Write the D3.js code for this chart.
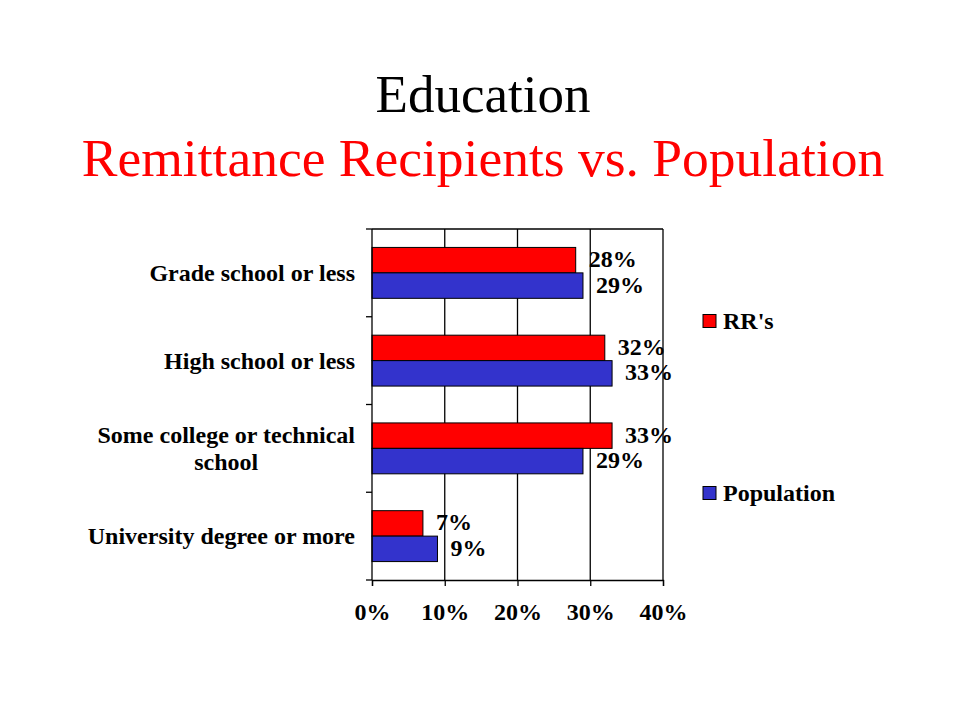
<!DOCTYPE html>
<html>
<head>
<meta charset="utf-8">
<script src="https://cdn.jsdelivr.net/npm/d3@7"></script>
<style>
  body { margin: 0; background: white; }
  text { font-family: "Liberation Serif", "Times New Roman", serif; }
</style>
</head>
<body>
<div id="chart"></div>
<script>
// data
const categories = ["Grade school or less", "High school or less", "Some college or technical\nschool", "University degree or more"]
const seriesNames = ["RR's", "Population"]
const rrValues = [28, 32, 33, 7]
const popValues = [29, 33, 29, 9]
const xTicks = [0, 10, 20, 30, 40]
const colors = ["#ff0000", "#3333cc"]

const rows = categories.map((c, i) => ({ cat: c, vals: [rrValues[i], popValues[i]] }))

const svg = d3.select('#chart').append('svg')
  .attr('width', 960)
  .attr('height', 720)
  .style('background', 'white')

// titles
svg.append('text')
  .attr('x', 483).attr('y', 112)
  .attr('text-anchor', 'middle')
  .attr('font-size', 53)
  .text('Education')

svg.append('text')
  .attr('x', 483).attr('y', 176)
  .attr('text-anchor', 'middle')
  .attr('font-size', 53.5)
  .attr('fill', '#ff0000')
  .text('Remittance Recipients vs. Population')

const plotL = 372, plotR = 663, plotT = 229, plotB = 580
const fs = 24

const x = d3.scaleLinear()
  .domain([0, 40])
  .range([plotL, plotR])

const y = d3.scaleBand()
  .domain(categories)
  .range([plotT, plotB])
  .paddingInner(0.42)
  .paddingOuter(0.21)

const y1 = d3.scaleBand()
  .domain(seriesNames)
  .range([0, y.bandwidth()])

// gridlines + frame
svg.append('g').selectAll('line')
  .data(xTicks.slice(1))
  .enter()
  .append('line')
  .attr('x1', d => x(d)).attr('x2', d => x(d))
  .attr('y1', plotT).attr('y2', plotB)
  .attr('stroke', 'black')
  .attr('stroke-width', 1.3)

svg.append('line')
  .attr('x1', plotL).attr('x2', plotR)
  .attr('y1', plotT).attr('y2', plotT)
  .attr('stroke', 'black')
  .attr('stroke-width', 1.3)

// bars
const groups = svg.selectAll('.grp')
  .data(rows)
  .enter()
  .append('g')
  .attr('class', 'grp')
  .attr('transform', d => `translate(0, ${y(d.cat)})`)

groups.selectAll('rect')
  .data(d => d.vals.map((v, i) => ({ v: v, s: seriesNames[i], c: colors[i] })))
  .enter()
  .append('rect')
  .attr('x', x(0))
  .attr('y', d => y1(d.s))
  .attr('width', d => x(d.v) - x(0))
  .attr('height', y1.bandwidth())
  .attr('fill', d => d.c)
  .attr('stroke', 'black')
  .attr('stroke-width', 1)

groups.selectAll('.lbl')
  .data(d => d.vals.map((v, i) => ({ v: v, s: seriesNames[i] })))
  .enter()
  .append('text')
  .attr('class', 'lbl')
  .attr('x', d => x(d.v) + 13)
  .attr('y', d => y1(d.s) + y1.bandwidth() / 2 - 1)
  .attr('dy', '0.33em')
  .attr('font-size', fs)
  .attr('font-weight', 'bold')
  .text(d => d.v + '%')

// x axis
const xAxis = svg.append('g')
  .attr('transform', `translate(0, ${plotB})`)
  .call(d3.axisBottom(x).tickValues(xTicks).tickFormat(d => d + '%').tickSize(6).tickPadding(17))
xAxis.select('.domain').attr('stroke', 'black').attr('stroke-width', 1.3)
xAxis.selectAll('line').attr('stroke-width', 1.3)
xAxis.selectAll('text')
  .attr('font-family', '"Liberation Serif", "Times New Roman", serif')
  .attr('font-size', fs)
  .attr('font-weight', 'bold')
  .attr('fill', 'black')

// y axis: line plus ticks at band boundaries
svg.append('line')
  .attr('x1', plotL).attr('x2', plotL)
  .attr('y1', plotT).attr('y2', plotB)
  .attr('stroke', 'black')
  .attr('stroke-width', 1.3)

const step = y.step()
svg.append('g').selectAll('line')
  .data(d3.range(categories.length + 1))
  .enter()
  .append('line')
  .attr('x1', plotL - 6).attr('x2', plotL)
  .attr('y1', i => plotT + i * step).attr('y2', i => plotT + i * step)
  .attr('stroke', 'black')
  .attr('stroke-width', 1.3)

// category labels, multi-line ones centred as a block
const catLabels = svg.append('g').selectAll('text')
  .data(categories)
  .enter()
  .append('text')
  .attr('font-size', fs)
  .attr('font-weight', 'bold')

catLabels.each(function (d) {
  const lines = d.split('\n')
  const t = d3.select(this)
  const cy = y(d) + y.bandwidth() / 2
  const lh = 27
  lines.forEach((ln, i) => {
    t.append('tspan')
      .attr('y', cy + (i - (lines.length - 1) / 2) * lh)
      .attr('dy', '0.33em')
      .text(ln)
  })
  if (lines.length === 1) {
    t.attr('text-anchor', 'end').selectAll('tspan').attr('x', 355)
  } else {
    let w = 0
    t.selectAll('tspan').each(function () { w = Math.max(w, this.getComputedTextLength()) })
    t.attr('text-anchor', 'middle').selectAll('tspan').attr('x', 355 - w / 2)
  }
})

// legend
const legendY = [321, 493]
const legend = svg.append('g').selectAll('g')
  .data(seriesNames)
  .enter()
  .append('g')
  .attr('transform', (d, i) => `translate(703, ${legendY[i]})`)

legend.append('rect')
  .attr('x', 0).attr('y', -6.5)
  .attr('width', 13).attr('height', 13)
  .attr('fill', (d, i) => colors[i])
  .attr('stroke', 'black')
  .attr('stroke-width', 1)

legend.append('text')
  .attr('x', 20)
  .attr('y', 0)
  .attr('dy', '0.33em')
  .attr('font-size', fs)
  .attr('font-weight', 'bold')
  .text(d => d)
</script>
</body>
</html>
